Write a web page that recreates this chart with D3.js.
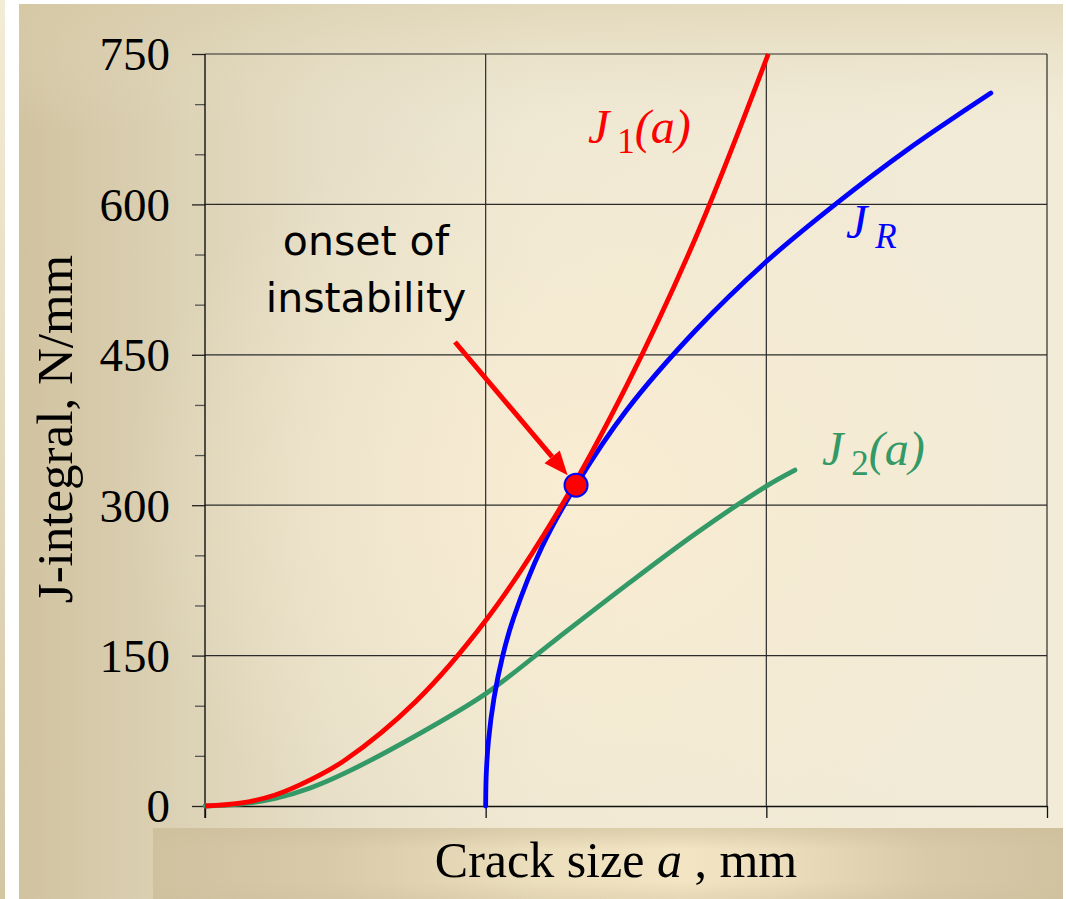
<!DOCTYPE html>
<html>
<head>
<meta charset="utf-8">
<script src="https://cdn.jsdelivr.net/npm/d3@7"></script>
<style>
  html, body { margin: 0; padding: 0; background: #ffffff; }
  svg { display: block; }
</style>
</head>
<body>
<svg id="chart" width="1066" height="899"></svg>
<script>
// ---------- data (crack size a [arbitrary units 0..3], J in N/mm) ----------
const xTicks = [0, 1, 2, 3];
const yTicks = [0, 150, 300, 450, 600, 750];
const yMinorTicks = [50, 100, 200, 250, 350, 400, 500, 550, 650, 700];

const j1A = [0, 0.125, 0.25, 0.375, 0.5, 0.75, 1.0, 1.25, 1.5, 1.75, 2.007];
const j1V = [0, 2.8, 11, 26, 46, 104, 185, 290, 418, 568, 750];

const jRA = [1.0, 1.002, 1.01, 1.03, 1.06, 1.1, 1.2, 1.322, 1.5, 1.75, 2.0, 2.25, 2.5, 2.8];
const jRV = [0, 31, 65, 108, 149, 188, 258, 320, 394, 475, 543, 601, 654, 711];

const j2A = [0, 0.125, 0.25, 0.375, 0.5, 0.75, 1.0, 1.25, 1.5, 1.75, 2.0, 2.102];
const j2V = [0, 1.8, 7.5, 18, 33, 70, 112, 166, 220, 272, 319, 335];

const onsetA = [1.322];
const onsetV = [320];

const yTitle = "J-integral, N/mm";
const annotationLines = ["onset of", "instability"];

// ---------- layout ----------
const svg = d3.select("#chart");
const W = 1066, H = 899;
const x = d3.scaleLinear().domain([0, 3]).range([205, 1047]);
const y = d3.scaleLinear().domain([0, 750]).range([806, 54]);

const defs = svg.append("defs");
const lin = (id, x1, y1, x2, y2, stops) => {
  const g = defs.append("linearGradient").attr("id", id)
    .attr("x1", x1).attr("y1", y1).attr("x2", x2).attr("y2", y2);
  stops.forEach(s => g.append("stop").attr("offset", s[0]).attr("stop-color", s[1]).attr("stop-opacity", s[2] == null ? 1 : s[2]));
};
lin("bgH", 0, 0, 1, 0, [[0, "#d1c3a0"], [0.17, "#ddd3b7"], [0.3, "#e6dec7"], [0.5, "#efe8d3"], [1, "#f2ebd7"]]);
lin("bgV", 0, 0, 0, 1, [[0, "#d8cca9", 0.55], [0.14, "#e8dfc5", 0], [1, "#e8dfc5", 0]]);
lin("strip", 0, 0, 0, 1, [[0, "#f3ecd6"], [1, "#d3c6a3"]]);
lin("bar", 0, 0, 1, 0, [[0, "#d0c29f"], [0.2, "#d9cbaa"], [0.42, "#ecdfbd"], [0.58, "#f3e5c3"], [0.68, "#eddfbe"], [0.85, "#d9cbaa"], [1, "#d1c3a0"]]);
lin("barV", 0, 0, 0, 1, [[0, "#cdbf9c", 0.6], [0.3, "#cdbf9c", 0], [0.75, "#cdbf9c", 0], [1, "#cdbf9c", 0.35]]);
const rg = defs.append("radialGradient").attr("id", "warm").attr("cx", 0.55).attr("cy", 0.55).attr("r", 0.45);
rg.append("stop").attr("offset", 0).attr("stop-color", "#faedd2").attr("stop-opacity", 0.9);
rg.append("stop").attr("offset", 1).attr("stop-color", "#faedd2").attr("stop-opacity", 0);

// background panels
svg.append("rect").attr("x", 0).attr("y", 0).attr("width", 5).attr("height", H).attr("fill", "url(#strip)");
svg.append("rect").attr("x", 19).attr("y", 4).attr("width", 1044).attr("height", H - 4).attr("fill", "url(#bgH)");
svg.append("rect").attr("x", 19).attr("y", 4).attr("width", 1044).attr("height", H - 4).attr("fill", "url(#bgV)");
svg.append("rect").attr("x", 19).attr("y", 4).attr("width", 1044).attr("height", H - 4).attr("fill", "url(#warm)");
svg.append("rect").attr("x", 153).attr("y", 828).attr("width", 910).attr("height", H - 828).attr("fill", "url(#bar)");
svg.append("rect").attr("x", 153).attr("y", 828).attr("width", 910).attr("height", H - 828).attr("fill", "url(#barV)");

// grid lines
const grid = svg.append("g").attr("stroke", "#2b2b2b").attr("stroke-width", 1.2);
grid.selectAll("line.h").data(yTicks.filter(d => d > 0)).join("line")
  .attr("x1", x(0)).attr("x2", x(3)).attr("y1", d => y(d)).attr("y2", d => y(d));
grid.selectAll("line.v").data(xTicks.filter(d => d > 0)).join("line")
  .attr("x1", d => x(d)).attr("x2", d => x(d)).attr("y1", y(750)).attr("y2", y(0));

// y axis (major + minor)
const yAxis = svg.append("g").attr("transform", `translate(${x(0)},0)`)
  .call(d3.axisLeft(y).tickValues(yTicks).tickSize(13).tickPadding(22).tickSizeOuter(0));
yAxis.select(".domain").remove();
yAxis.selectAll(".tick line").attr("stroke", "#222").attr("stroke-width", 1.3);
yAxis.selectAll(".tick text").attr("font-family", "'Liberation Serif', 'Times New Roman', serif")
  .attr("font-size", 47).attr("fill", "#000").attr("dy", "0.34em");
const yMinor = svg.append("g").attr("transform", `translate(${x(0)},0)`)
  .call(d3.axisLeft(y).tickValues(yMinorTicks).tickSize(10).tickFormat(""));
yMinor.select(".domain").remove();
yMinor.selectAll(".tick line").attr("stroke", "#555").attr("stroke-width", 1.3);

// x axis
const xAxis = svg.append("g").attr("transform", `translate(0,${y(0)})`)
  .call(d3.axisBottom(x).tickValues(xTicks).tickSize(12).tickFormat("").tickSizeOuter(0));
xAxis.select(".domain").attr("stroke", "#111").attr("stroke-width", 1.4);
xAxis.selectAll(".tick line").attr("stroke", "#111").attr("stroke-width", 1.3);
// left axis line
svg.append("line").attr("x1", x(0)).attr("x2", x(0)).attr("y1", y(750)).attr("y2", y(0) + 12)
  .attr("stroke", "#111").attr("stroke-width", 1.4);

// lines
const line = d3.line().x(d => x(d[0])).y(d => y(d[1])).curve(d3.curveCatmullRom.alpha(0.5));
const zip = (a, b) => a.map((v, i) => [v, b[i]]);
svg.append("path").datum(zip(j2A, j2V)).attr("d", line).attr("fill", "none")
  .attr("stroke", "#339966").attr("stroke-width", 4.8).attr("stroke-linecap", "round");
svg.append("path").datum(zip(jRA, jRV)).attr("d", line).attr("fill", "none")
  .attr("stroke", "#0000ff").attr("stroke-width", 4.8).attr("stroke-linecap", "round");
svg.append("path").datum(zip(j1A, j1V)).attr("d", line).attr("fill", "none")
  .attr("stroke", "#ff0000").attr("stroke-width", 4.8);

// arrow annotation
const px = x(onsetA[0]), py = y(onsetV[0]);
const sx = 455, sy = 342;
const ang = Math.atan2(py - sy, px - sx);
const tipX = px - 13 * Math.cos(ang) , tipY = py - 13 * Math.sin(ang);
const headL = 24, headW = 10;
const bx = tipX - headL * Math.cos(ang), by = tipY - headL * Math.sin(ang);
svg.append("line").attr("x1", sx).attr("y1", sy).attr("x2", bx).attr("y2", by)
  .attr("stroke", "#ff0000").attr("stroke-width", 5);
svg.append("polygon").attr("fill", "#ff0000").attr("points", [
  [tipX, tipY],
  [bx + headW * Math.sin(ang), by - headW * Math.cos(ang)],
  [bx - headW * Math.sin(ang), by + headW * Math.cos(ang)]
].map(p => p.join(",")).join(" "));

// onset point
svg.selectAll("circle.onset").data(zip(onsetA, onsetV)).join("circle")
  .attr("cx", d => x(d[0])).attr("cy", d => y(d[1])).attr("r", 11.5)
  .attr("fill", "#ff0000").attr("stroke", "#0000ff").attr("stroke-width", 2);

// annotation text
const ann = svg.append("text").attr("font-family", "'DejaVu Sans', Verdana, sans-serif")
  .attr("font-size", 41).attr("fill", "#000").attr("text-anchor", "middle");
annotationLines.forEach((t, i) => ann.append("tspan").attr("x", 366).attr("y", 255 + i * 57).text(t));

// series labels
const serif = "'Liberation Serif', 'Times New Roman', serif";
function label(xp, yp, color, sub, subItalic, tail) {
  const t = svg.append("text").attr("x", xp).attr("y", yp).attr("font-family", serif)
    .attr("font-size", 48).attr("fill", color);
  t.append("tspan").attr("font-style", "italic").text("J");
  t.append("tspan").attr("font-size", 35).attr("dx", 8).attr("dy", 10)
    .attr("font-style", subItalic ? "italic" : "normal").text(sub);
  if (tail) {
    t.append("tspan").attr("dy", -10).attr("font-style", "italic").text(tail);
  }
}
label(588, 143, "#ff0000", "1", false, "(a)");
label(846, 238, "#0000ff", "R", true, null);
label(822, 465, "#339966", "2", false, "(a)");

// axis titles
svg.append("text").attr("transform", `translate(72,429) rotate(-90)`).attr("text-anchor", "middle")
  .attr("font-family", serif).attr("font-size", 51).attr("fill", "#000").text(yTitle);
const xt = svg.append("text").attr("x", 616).attr("y", 877).attr("text-anchor", "middle")
  .attr("font-family", serif).attr("font-size", 50).attr("fill", "#000");
xt.append("tspan").text("Crack size ");
xt.append("tspan").attr("font-style", "italic").text("a");
xt.append("tspan").text(" , mm");
</script>
</body>
</html>
